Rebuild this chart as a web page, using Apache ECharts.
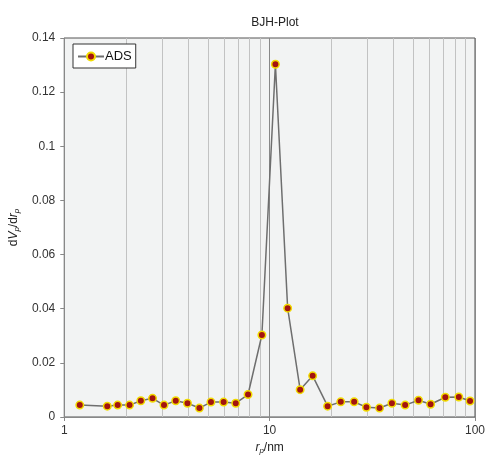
<!DOCTYPE html>
<html><head><meta charset="utf-8">
<script src="https://cdn.jsdelivr.net/npm/echarts@6/dist/echarts.min.js"></script>
<style>html,body{margin:0;padding:0;background:#fff}#c{width:488px;height:460px}</style>
</head><body><div id="c"></div>
<script>
const poreRadius = [1.19,1.62,1.82,2.08,2.36,2.69,3.06,3.49,3.98,4.55,5.18,5.97,6.84,7.85,9.17,10.67,12.24,14.08,16.2,19.16,22.2,25.8,29.6,34.3,39.4,45.7,53.1,60.8,71.7,83.4,94.6];
const dVdr = [0.0044,0.0040,0.0044,0.0044,0.0060,0.0069,0.0044,0.0060,0.0051,0.0033,0.0055,0.0055,0.0051,0.0083,0.0303,0.1303,0.0402,0.0101,0.0152,0.0040,0.0056,0.0056,0.0036,0.0033,0.0051,0.0044,0.0062,0.0047,0.0073,0.0074,0.0059];
const minorGrid = [2,3,4,5,6,7,8,9,20,30,40,50,60,70,80,90];
const seriesName = 'ADS';
const titleText = 'BJH-Plot';

const font = 'Liberation Sans, Arial, sans-serif';
const chart = echarts.init(document.getElementById('c'));
chart.setOption({
  animation: false,
  title: { text: titleText, left: 270, top: 12, textAlign: 'center',
    textStyle: { fontFamily: font, fontSize: 12, fontWeight: 'normal', color: '#222' } },
  legend: { data: [seriesName], left: 73, top: 44, orient: 'vertical',
    backgroundColor: '#fff', borderColor: '#333', borderWidth: 1, borderRadius: 0,
    padding: [6, 4, 5, 4], itemWidth: 26, itemHeight: 10, itemGap: 2,
    textStyle: { fontFamily: font, fontSize: 13, color: '#111', padding: [0,0,0,-4] } },
  grid: { left: 63, right: 10, top: 38, bottom: 37, show: true,
    backgroundColor: '#f2f3f3', borderColor: '#555', borderWidth: 1 },
  xAxis: { type: 'log', logBase: 10, min: 1, max: 100,
    name: '{i|r}{s|p}{n|/nm}', nameLocation: 'middle', nameGap: 24,
    nameTextStyle: { fontFamily: font, fontSize: 12, color: '#222',
      rich: { i: { fontStyle: 'italic', fontSize: 12, fontFamily: font },
              s: { fontStyle: 'italic', fontSize: 8, fontFamily: font, verticalAlign: 'bottom', padding: [6,0,0,0] },
              n: { fontSize: 12, fontFamily: font } } },
    axisLine: { show: true, lineStyle: { color: '#888', width: 1 } },
    axisTick: { show: true, length: 4, lineStyle: { color: '#888' } },
    axisLabel: { fontFamily: font, fontSize: 12, color: '#333', margin: 8 },
    splitLine: { show: true, lineStyle: { color: '#888', width: 1 } },
    minorTick: { show: false }, minorSplitLine: { show: false } },
  yAxis: { type: 'value', min: 0, max: 0.14, interval: 0.02,
    name: '{n|d}{i|V}{s|p}{n|/d}{i|r}{s|p}', nameLocation: 'middle', nameGap: 37, nameRotate: 90,
    nameTextStyle: { fontFamily: font, fontSize: 12, color: '#222',
      rich: { i: { fontStyle: 'italic', fontSize: 12, fontFamily: font },
              s: { fontStyle: 'italic', fontSize: 8, fontFamily: font, verticalAlign: 'bottom', padding: [6,0,0,0] },
              n: { fontSize: 12, fontFamily: font } } },
    axisLine: { show: true, lineStyle: { color: '#888', width: 1 } },
    axisTick: { show: true, length: 4, inside: false, lineStyle: { color: '#888' } },
    axisLabel: { fontFamily: font, fontSize: 12, color: '#333', margin: 9,
      formatter: v => String(+v.toFixed(2)) },
    splitLine: { show: false } },
  series: [{
    name: seriesName, type: 'line',
    data: poreRadius.map((x, i) => [x, dVdr[i]]),
    symbol: 'circle', symbolSize: 7.5,
    lineStyle: { color: '#6e6e6e', width: 1.5 },
    itemStyle: { color: '#a3140f', borderColor: '#f2dc00', borderWidth: 1.5 },
    z: 5,
    markLine: { silent: true, symbol: 'none', label: { show: false }, animation: false,
      lineStyle: { color: '#c2c2c2', width: 1, type: 'solid' },
      data: minorGrid.map(v => ({ xAxis: v })) , z: 1 }
  }]
});
</script></body></html>
